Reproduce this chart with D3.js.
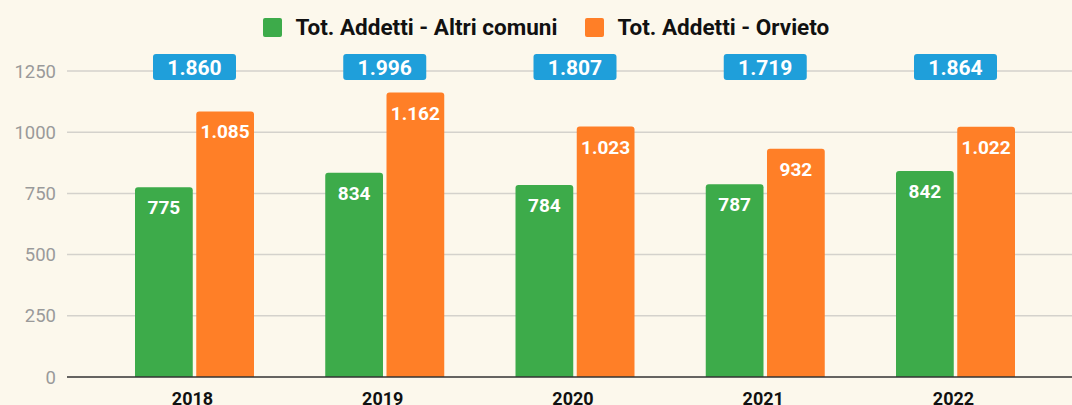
<!DOCTYPE html>
<html>
<head>
<meta charset="utf-8">
<script src="https://cdn.jsdelivr.net/npm/d3@7"></script>
<style>
  body { margin: 0; background: #fcf8ec; }
  svg { display: block; font-family: Roboto, "Noto Sans", sans-serif; }
</style>
</head>
<body>
<div id="chart"></div>
<script>
const width = 1072;
const height = 405;

// Data
const years = ["2018", "2019", "2020", "2021", "2022"];
const altriComuni = [775, 834, 784, 787, 842];
const orvieto = [1085, 1162, 1023, 932, 1022];
const totals = [1860, 1996, 1807, 1719, 1864];
const seriesNames = ["Tot. Addetti - Altri comuni", "Tot. Addetti - Orvieto"];
const seriesColors = ["#3dab4a", "#ff7f27"];
const yTicks = [0, 250, 500, 750, 1000, 1250];

const locale = d3.formatLocale({decimal: ",", thousands: ".", grouping: [3], currency: ["€", ""]});
const fmt = locale.format(",d");

const svg = d3.select("#chart")
    .append("svg")
    .attr("width", width)
    .attr("height", height);

svg.append("rect").attr("width", width).attr("height", height).attr("fill", "#fcf8ec");

// Scales
const y = d3.scaleLinear().domain([0, 1250]).range([377, 71]);
const x = d3.scaleBand().domain(years).range([135, 1015]).paddingInner(0.3745).paddingOuter(0);
const xSub = d3.scaleBand().domain([0, 1]).range([0, x.bandwidth()]).paddingInner(0.057);

// Gridlines + y labels
svg.append("g")
    .selectAll("line")
    .data(yTicks.filter(d => d > 0))
    .join("line")
    .attr("x1", 67).attr("x2", width)
    .attr("y1", d => y(d)).attr("y2", d => y(d))
    .attr("stroke", "#d4d2cc").attr("stroke-width", 1.5);

svg.append("g")
    .selectAll("text")
    .data(yTicks)
    .join("text")
    .attr("x", 56)
    .attr("y", d => y(d) + 6.5)
    .attr("text-anchor", "end")
    .attr("fill", "#9a9a9a")
    .attr("font-size", 18.5)
    .text(d => d);

// Bars
const rows = years.map((yr, i) => ({year: yr, vals: [altriComuni[i], orvieto[i]], total: totals[i]}));

function topRounded(x0, y0, w, h, r) {
    return `M${x0},${y0 + h}V${y0 + r}Q${x0},${y0} ${x0 + r},${y0}H${x0 + w - r}Q${x0 + w},${y0} ${x0 + w},${y0 + r}V${y0 + h}Z`;
}

const groups = svg.append("g")
    .selectAll("g")
    .data(rows)
    .join("g")
    .attr("transform", d => `translate(${x(d.year)},0)`);

groups.selectAll("path")
    .data(d => d.vals.map((v, s) => ({v, s})))
    .join("path")
    .attr("d", d => topRounded(xSub(d.s), y(d.v), xSub.bandwidth(), y(0) - y(d.v), 3))
    .attr("fill", d => seriesColors[d.s]);

groups.selectAll("text.val")
    .data(d => d.vals.map((v, s) => ({v, s})))
    .join("text")
    .attr("class", "val")
    .attr("x", d => xSub(d.s) + xSub.bandwidth() / 2)
    .attr("y", d => y(d.v) + 27)
    .attr("text-anchor", "middle")
    .attr("fill", "#fff")
    .attr("font-size", 19)
    .attr("font-weight", "bold")
    .text(d => fmt(d.v));

// Total boxes
groups.append("rect")
    .attr("x", x.bandwidth() / 2 - 41.5)
    .attr("y", 54)
    .attr("width", 83)
    .attr("height", 26)
    .attr("rx", 3)
    .attr("fill", "#1f9fda");

groups.append("text")
    .attr("x", x.bandwidth() / 2)
    .attr("y", 75)
    .attr("text-anchor", "middle")
    .attr("fill", "#fff")
    .attr("font-size", 21)
    .attr("font-weight", "bold")
    .text(d => fmt(d.total));

// Axis line
svg.append("line")
    .attr("x1", 67).attr("x2", width)
    .attr("y1", y(0)).attr("y2", y(0))
    .attr("stroke", "#333").attr("stroke-width", 1.5);

// X labels
svg.append("g")
    .selectAll("text")
    .data(years)
    .join("text")
    .attr("x", d => x(d) + x.bandwidth() / 2 - 2)
    .attr("y", 405)
    .attr("text-anchor", "middle")
    .attr("fill", "#111")
    .attr("font-size", 18)
    .attr("font-weight", "bold")
    .text(d => d);

// Legend
const legendX = [263, 585];
const legend = svg.append("g")
    .selectAll("g")
    .data(seriesNames)
    .join("g")
    .attr("transform", (d, i) => `translate(${legendX[i]},18)`);

legend.append("rect")
    .attr("width", 19).attr("height", 19).attr("rx", 2)
    .attr("fill", (d, i) => seriesColors[i]);

legend.append("text")
    .attr("x", 32.5)
    .attr("y", 16.5)
    .attr("fill", "#111")
    .attr("font-size", 22.5)
    .attr("font-weight", "bold")
    .text(d => d);
</script>
</body>
</html>
